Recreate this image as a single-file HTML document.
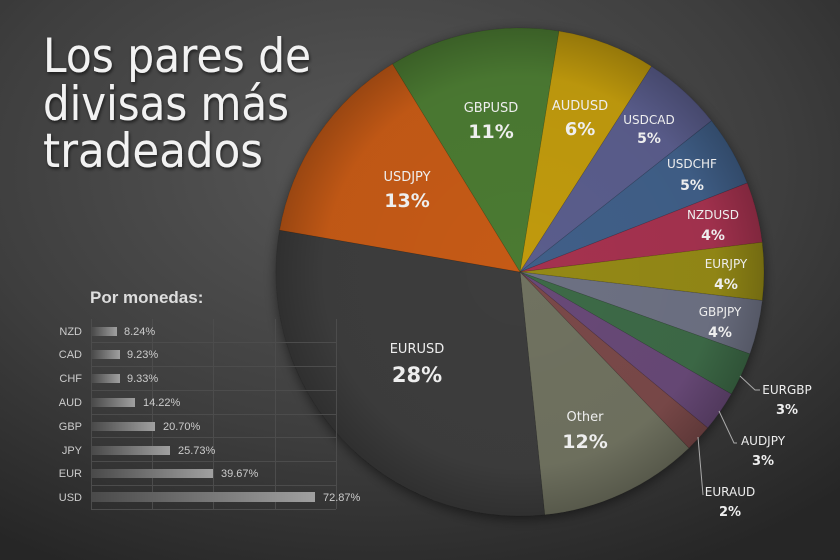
<!DOCTYPE html>
<html><head><meta charset="utf-8"><style>
html,body{margin:0;padding:0;}
body{width:840px;height:560px;overflow:hidden;background:#333;}
svg{display:block;font-family:"Liberation Sans",sans-serif;}
</style></head><body>
<svg width="840" height="560" viewBox="0 0 840 560" xmlns="http://www.w3.org/2000/svg">
<defs>
<radialGradient id="bg" cx="0.45" cy="0.3" r="0.8">
<stop offset="0" stop-color="#585858"/><stop offset="0.6" stop-color="#3e3e3e"/><stop offset="1" stop-color="#262626"/>
</radialGradient>
<radialGradient id="shade" cx="520" cy="272" r="244" gradientUnits="userSpaceOnUse">
<stop offset="0" stop-color="#000" stop-opacity="0"/><stop offset="0.8" stop-color="#000" stop-opacity="0.03"/><stop offset="1" stop-color="#000" stop-opacity="0.22"/>
</radialGradient>
<linearGradient id="bar" x1="0" x2="1"><stop offset="0" stop-color="#4a4a4a"/><stop offset="1" stop-color="#a0a0a0"/></linearGradient>
<filter id="ds"><feDropShadow dx="0" dy="3" stdDeviation="6" flood-color="#000" flood-opacity="0.5"/></filter>
<filter id="ts"><feDropShadow dx="1" dy="2" stdDeviation="1.5" flood-color="#000" flood-opacity="0.6"/></filter>
</defs>
<rect width="840" height="560" fill="url(#bg)"/>
<g filter="url(#ds)" stroke="rgba(0,0,0,0.15)" stroke-width="0.7">
<path d="M520,272 L392.5,64 A244,244 0 0 1 559,31.1Z" fill="#4b7a30"/>
<path d="M520,272 L559,31.1 A244,244 0 0 1 651.5,66.4Z" fill="#c09a0c"/>
<path d="M520,272 L651.5,66.4 A244,244 0 0 1 711.5,120.8Z" fill="#5a5d8c"/>
<path d="M520,272 L711.5,120.8 A244,244 0 0 1 747.2,183Z" fill="#3f5f88"/>
<path d="M520,272 L747.2,183 A244,244 0 0 1 762.2,242.3Z" fill="#a5334f"/>
<path d="M520,272 L762.2,242.3 A244,244 0 0 1 762.3,300.5Z" fill="#948912"/>
<path d="M520,272 L762.3,300.5 A244,244 0 0 1 749.9,353.9Z" fill="#6d7183"/>
<path d="M520,272 L749.9,353.9 A244,244 0 0 1 731.3,394Z" fill="#3e6a46"/>
<path d="M520,272 L731.3,394 A244,244 0 0 1 707.7,427.9Z" fill="#684a77"/>
<path d="M520,272 L707.7,427.9 A244,244 0 0 1 688.9,448.1Z" fill="#7a4848"/>
<path d="M520,272 L688.9,448.1 A244,244 0 0 1 544.7,514.8Z" fill="#707260"/>
<path d="M520,272 L544.7,514.8 A244,244 0 0 1 279.6,230.1Z" fill="#3d3d3d"/>
<path d="M520,272 L279.6,230.1 A244,244 0 0 1 392.5,64Z" fill="#c55a14"/>
</g>
<circle cx="520" cy="272" r="244" fill="url(#shade)"/>
<g fill="#eee" text-anchor="middle" font-family="DejaVu Sans, sans-serif">
<text x="491" y="112" font-size="13">GBPUSD</text><text x="491" y="138" font-size="19" font-weight="bold">11%</text>
<text x="580" y="110" font-size="13">AUDUSD</text><text x="580" y="135" font-size="18" font-weight="bold">6%</text>
<text x="649" y="124" font-size="12">USDCAD</text><text x="649" y="143" font-size="14" font-weight="bold">5%</text>
<text x="692" y="168" font-size="12">USDCHF</text><text x="692" y="190" font-size="14" font-weight="bold">5%</text>
<text x="713" y="219" font-size="12">NZDUSD</text><text x="713" y="240" font-size="14" font-weight="bold">4%</text>
<text x="726" y="268" font-size="12">EURJPY</text><text x="726" y="289" font-size="14" font-weight="bold">4%</text>
<text x="720" y="316" font-size="12">GBPJPY</text><text x="720" y="337" font-size="14" font-weight="bold">4%</text>
<text x="407" y="181" font-size="13">USDJPY</text><text x="407" y="207" font-size="19" font-weight="bold">13%</text>
<text x="417" y="353" font-size="13">EURUSD</text><text x="417" y="382" font-size="21" font-weight="bold">28%</text>
<text x="585" y="421" font-size="13">Other</text><text x="585" y="448" font-size="19" font-weight="bold">12%</text>
<text x="787" y="394" font-size="12">EURGBP</text><text x="787" y="414" font-size="13" font-weight="bold">3%</text>
<text x="763" y="445" font-size="12">AUDJPY</text><text x="763" y="465" font-size="13" font-weight="bold">3%</text>
<text x="730" y="496" font-size="12">EURAUD</text><text x="730" y="516" font-size="13" font-weight="bold">2%</text>
</g>
<g stroke="#aaa" stroke-width="1" fill="none">
<polyline points="740,376 755,390 760,390"/>
<polyline points="719,411 734,443 737,443"/>
<polyline points="698,437 703,495"/>
</g>
<g fill="#f2f2f2" filter="url(#ts)" font-size="47" font-family="DejaVu Sans, sans-serif">
<text x="43" y="72" textLength="268" lengthAdjust="spacingAndGlyphs">Los pares de</text>
<text x="43" y="120" textLength="246" lengthAdjust="spacingAndGlyphs">divisas más</text>
<text x="43" y="167" textLength="220" lengthAdjust="spacingAndGlyphs">tradeados</text>
</g>
<text x="90" y="303" font-size="17" font-weight="bold" fill="#ddd">Por monedas:</text>
<g stroke="#4c4c4c" stroke-width="1">
<line x1="91.5" y1="319" x2="91.5" y2="509"/>
<line x1="152.5" y1="319" x2="152.5" y2="509"/>
<line x1="213.5" y1="319" x2="213.5" y2="509"/>
<line x1="275.5" y1="319" x2="275.5" y2="509"/>
<line x1="336.5" y1="319" x2="336.5" y2="509"/>
<line x1="91" y1="342.5" x2="336" y2="342.5"/>
<line x1="91" y1="366.5" x2="336" y2="366.5"/>
<line x1="91" y1="390.5" x2="336" y2="390.5"/>
<line x1="91" y1="414.5" x2="336" y2="414.5"/>
<line x1="91" y1="437.5" x2="336" y2="437.5"/>
<line x1="91" y1="461.5" x2="336" y2="461.5"/>
<line x1="91" y1="485.5" x2="336" y2="485.5"/>
<line x1="91" y1="509.5" x2="336" y2="509.5"/>
</g>
<g fill="url(#bar)">
<rect x="92" y="327" width="25" height="9"/>
<rect x="92" y="350" width="28" height="9"/>
<rect x="92" y="374" width="28" height="9"/>
<rect x="92" y="398" width="43" height="9"/>
<rect x="92" y="422" width="63" height="9"/>
<rect x="92" y="446" width="78" height="9"/>
<rect x="92" y="469" width="121" height="9"/>
<rect x="92" y="492" width="223" height="10"/>
</g>
<g font-size="11" fill="#ccc">
<g text-anchor="end">
<text x="82" y="335">NZD</text><text x="82" y="358">CAD</text><text x="82" y="382">CHF</text><text x="82" y="406">AUD</text>
<text x="82" y="430">GBP</text><text x="82" y="454">JPY</text><text x="82" y="477">EUR</text><text x="82" y="501">USD</text>
</g>
<text x="124" y="335">8.24%</text><text x="127" y="358">9.23%</text><text x="127" y="382">9.33%</text><text x="143" y="406">14.22%</text>
<text x="163" y="430">20.70%</text><text x="178" y="454">25.73%</text><text x="221" y="477">39.67%</text><text x="323" y="501">72.87%</text>
</g>
</svg>
</body></html>
